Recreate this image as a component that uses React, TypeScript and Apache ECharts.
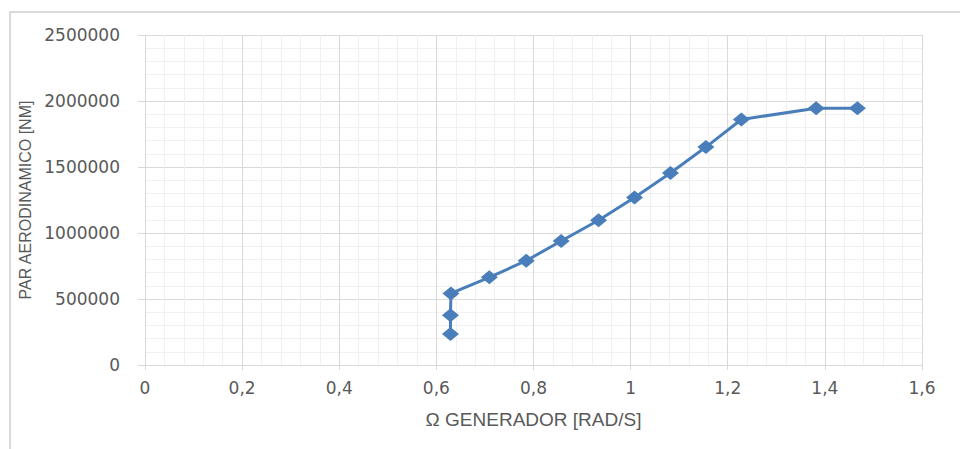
import React, { useEffect, useRef } from "react";
import * as echarts from "echarts";

const omega = [0.629, 0.629, 0.63, 0.709, 0.785, 0.857, 0.934, 1.008, 1.082, 1.155, 1.228, 1.382, 1.467];
const torque = [234000, 377000, 542000, 664000, 790000, 939000, 1097000, 1269000, 1455000, 1651000, 1860000, 1945000, 1945000];
const xAxisTitle = "Ω GENERADOR [RAD/S]";
const yAxisTitle = "PAR AERODINAMICO [NM]";

export default function App() {
  const ref = useRef<HTMLDivElement>(null);
  useEffect(() => {
    const chart = echarts.init(ref.current!, null, { renderer: "svg" });
    const font = "'Liberation Sans', 'Open Sans', sans-serif";
    const wide = "'DejaVu Sans', sans-serif";
    chart.setOption({
      animation: false,
      backgroundColor: "#ffffff",
      textStyle: { fontFamily: font },
      graphic: [
        {
          type: "rect",
          shape: { x: 10, y: 12, width: 960, height: 450 },
          style: { fill: "none", stroke: "#d9d9d9", lineWidth: 2 },
          silent: true,
        },
      ],
      grid: { left: 145, right: 38, top: 35, bottom: 84 },
      xAxis: {
        type: "value",
        min: 0,
        max: 1.6,
        interval: 0.2,
        name: xAxisTitle,
        nameLocation: "middle",
        nameGap: 45,
        nameTextStyle: { color: "#595959", fontSize: 19, fontFamily: font },
        axisLine: { show: true, onZero: false, lineStyle: { color: "#d9d9d9", width: 1 } },
        axisTick: { show: true, length: 5, lineStyle: { color: "#d9d9d9" } },
        axisLabel: {
          color: "#595959",
          fontSize: 17,
          fontFamily: wide,
          margin: 14,
          formatter: (v: number) => String(Math.round(v * 10) / 10).replace(".", ","),
        },
        splitLine: { show: true, lineStyle: { color: "#d9d9d9", width: 1 } },
        minorTick: { show: false, splitNumber: 5 },
        minorSplitLine: { show: true, lineStyle: { color: "#f0f0f0", width: 1 } },
      },
      yAxis: {
        type: "value",
        min: 0,
        max: 2500000,
        interval: 500000,
        name: yAxisTitle,
        nameLocation: "middle",
        nameGap: 112,
        nameTextStyle: { color: "#595959", fontSize: 16, fontFamily: font },
        axisLine: { show: true, lineStyle: { color: "#d9d9d9", width: 1 } },
        axisTick: { show: true, length: 7, lineStyle: { color: "#d9d9d9" } },
        axisLabel: {
          color: "#595959",
          fontSize: 17,
          fontFamily: wide,
          margin: 25,
          formatter: (v: number) => String(v),
        },
        splitLine: { show: true, lineStyle: { color: "#d9d9d9", width: 1 } },
        minorTick: { show: false, splitNumber: 5 },
        minorSplitLine: { show: true, lineStyle: { color: "#f0f0f0", width: 1 } },
      },
      series: [
        {
          type: "line",
          data: omega.map((x, i) => [x, torque[i]]),
          symbol: "diamond",
          symbolSize: [17, 14],
          lineStyle: { color: "#4a7ebb", width: 3 },
          itemStyle: { color: "#4a7ebb" },
        },
      ],
    });
    return () => chart.dispose();
  }, []);
  return (
    <div
      ref={ref}
      style={{ position: "absolute", left: 0, top: 0, width: 960, height: 449 }}
    />
  );
}
